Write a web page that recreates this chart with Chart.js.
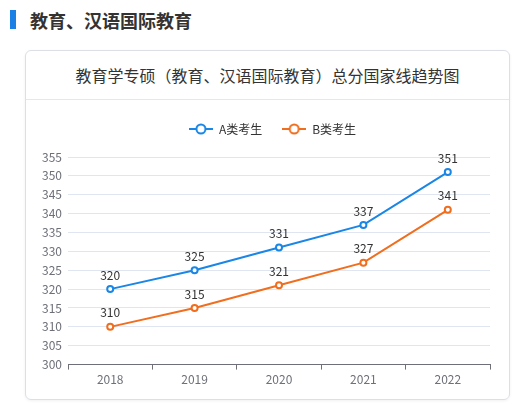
<!DOCTYPE html>
<html>
<head>
<meta charset="utf-8">
<script src="https://cdn.jsdelivr.net/npm/chart.js@4"></script>
<style>
  html, body { margin: 0; padding: 0; background: #fff; width: 525px; height: 415px; overflow: hidden; font-family: "Noto Sans CJK SC", "Noto Sans", sans-serif; }
  .heading { position: absolute; left: 10px; top: 6px; height: 28px; }
  .heading .bar { position: absolute; left: 0; top: 4px; width: 6px; height: 19px; background: #1a80e6; }
  .heading .txt { position: absolute; left: 20px; top: 0; font-size: 18px; font-weight: bold; color: #333; white-space: nowrap; line-height: 28px; }
  .card { position: absolute; left: 25px; top: 50px; width: 485px; height: 350px; box-sizing: border-box; border: 1px solid #dcdfe6; border-radius: 6px; box-shadow: 0 1px 3px rgba(0,0,0,0.06); }
  .card .title { position: absolute; left: 0; top: 0; width: 100%; height: 49px; box-sizing: border-box; border-bottom: 1px solid #e4e7ed; text-align: center; font-size: 16px; line-height: 48px; color: #333; }
  .chartbox { position: absolute; left: 25px; top: 100px; width: 485px; height: 300px; }
</style>
</head>
<body>
<div class="heading"><div class="bar"></div><div class="txt">教育、汉语国际教育</div></div>
<div class="card"><div class="title">教育学专硕（教育、汉语国际教育）总分国家线趋势图</div></div>
<div class="chartbox"><canvas id="c" width="485" height="300"></canvas></div>
<script>
const categories = ["2018", "2019", "2020", "2021", "2022"];
const seriesA = [320, 325, 331, 337, 351];
const seriesB = [310, 315, 321, 327, 341];
const seriesNames = ["A类考生", "B类考生"];
const yTicks = [300, 305, 310, 315, 320, 325, 330, 335, 340, 345, 350, 355];

const colorA = "#1a86e6";
const colorB = "#f06e1e";
const fontFam = '"Noto Sans CJK SC", "Noto Sans", sans-serif';

function legendIcon(color) {
  const cv = document.createElement("canvas");
  cv.width = 24; cv.height = 12;
  const g = cv.getContext("2d");
  g.strokeStyle = color; g.lineWidth = 2;
  g.beginPath(); g.moveTo(0, 6); g.lineTo(24, 6); g.stroke();
  g.beginPath(); g.arc(12, 6, 4.5, 0, Math.PI * 2);
  g.fillStyle = "#fff"; g.fill(); g.stroke();
  return cv;
}

const legendSpace = {
  id: "legendSpace",
  beforeInit(chart) {
    const lg = chart.legend;
    if (lg && !lg._patched) {
      const orig = lg.fit;
      lg.fit = function () { orig.call(this); this.height += 12; };
      lg._patched = true;
    }
  },
  afterLayout(chart) {
    if (chart.legend) { chart.legend.left = 30; }
  }
};

const dataLabels = {
  id: "dataLabels",
  afterDatasetsDraw(chart) {
    const ctx = chart.ctx;
    ctx.save();
    ctx.font = "12px " + fontFam;
    ctx.fillStyle = "#333";
    ctx.textAlign = "center";
    ctx.textBaseline = "bottom";
    chart.data.datasets.forEach((ds, i) => {
      const meta = chart.getDatasetMeta(i);
      meta.data.forEach((pt, j) => {
        ctx.fillText(String(ds.data[j]), pt.x, pt.y - 8);
      });
    });
    ctx.restore();
  }
};

new Chart(document.getElementById("c"), {
  type: "line",
  data: {
    labels: categories,
    datasets: [
      { label: seriesNames[0], data: seriesA, borderColor: colorA, backgroundColor: "#fff", borderWidth: 2, pointRadius: 3, pointBorderWidth: 2, pointBackgroundColor: "#fff", pointBorderColor: colorA, pointStyle: "circle", tension: 0 },
      { label: seriesNames[1], data: seriesB, borderColor: colorB, backgroundColor: "#fff", borderWidth: 2, pointRadius: 3, pointBorderWidth: 2, pointBackgroundColor: "#fff", pointBorderColor: colorB, pointStyle: "circle", tension: 0 }
    ]
  },
  options: {
    responsive: false,
    animation: false,
    layout: { padding: { top: 3, right: 20, bottom: 10, left: 0 } },
    plugins: {
      tooltip: { enabled: false },
      legend: {
        position: "top",
        labels: {
          usePointStyle: true,
          pointStyleWidth: 24,
          padding: 20,
          color: "#333",
          font: { size: 12, family: fontFam },
          generateLabels(chart) {
            return chart.data.datasets.map((ds, i) => ({
              text: ds.label,
              pointStyle: legendIcon(ds.borderColor),
              fillStyle: "#fff",
              strokeStyle: ds.borderColor,
              lineWidth: 0,
              fontColor: "#333",
              hidden: false,
              datasetIndex: i
            }));
          }
        }
      }
    },
    scales: {
      x: {
        offset: true,
        grid: { offset: true, drawOnChartArea: false, drawTicks: true, tickLength: 5, color: "#6e7079" },
        border: { display: true, color: "#6e7079", width: 1 },
        ticks: { color: "#6e7079", font: { size: 12, family: fontFam }, padding: 3, maxRotation: 0 }
      },
      y: {
        min: yTicks[0],
        max: yTicks[yTicks.length - 1],
        afterBuildTicks(scale) { scale.ticks = yTicks.map(v => ({ value: v })); },
        afterFit(scale) { scale.width = 43; },
        grid: { color: "#e0e6f1", drawTicks: false },
        border: { display: false },
        ticks: { color: "#6e7079", font: { size: 12, family: fontFam }, padding: 6 }
      }
    }
  },
  plugins: [legendSpace, dataLabels]
});
</script>
</body>
</html>
